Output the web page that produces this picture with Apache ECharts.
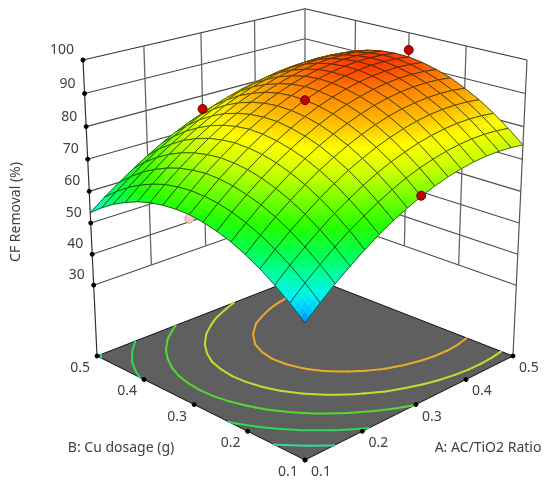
<!DOCTYPE html>
<html><head><meta charset="utf-8">
<style>html,body{margin:0;padding:0;background:#fff}#c{width:547px;height:482px}</style>
<script src="https://cdn.jsdelivr.net/npm/echarts@6/dist/echarts.min.js"></script>
</head><body><div id="c"></div>
<script>
// ---- data ----
const factorTicks = [0.1, 0.2, 0.3, 0.4, 0.5];
const responseTicks = [30, 40, 50, 60, 70, 80, 90, 100];
const contourLevels = [54.3, 62.0, 69.8, 77.5, 85.2];
const contourColors = ['#35d6a0', '#2ed85a', '#55d82e', '#c4dc2e', '#ecaa2c'];
// rows: Cu dosage 0.100 -> 0.500 (step 0.025); columns: AC/TiO2 0.100 -> 0.500 (step 0.025)
const removal = [
[46.7,50.6,54.3,57.6,60.7,63.5,66.0,68.1,70.0,71.6,72.9,73.9,74.6,75.0,75.1,74.9,74.4],
[50.5,54.5,58.1,61.5,64.6,67.3,69.8,72.0,73.9,75.5,76.7,77.7,78.4,78.8,78.9,78.7,78.2],
[53.9,57.9,61.5,64.9,68.0,70.7,73.2,75.4,77.3,78.8,80.1,81.1,81.8,82.2,82.3,82.1,81.6],
[56.9,60.8,64.5,67.8,70.9,73.7,76.2,78.3,80.2,81.8,83.1,84.1,84.8,85.2,85.3,85.1,84.6],
[59.3,63.3,67.0,70.3,73.4,76.2,78.6,80.8,82.7,84.3,85.6,86.6,87.2,87.6,87.7,87.5,87.0],
[61.4,65.3,69.0,72.3,75.4,78.2,80.7,82.8,84.7,86.3,87.6,88.6,89.3,89.7,89.8,89.6,89.1],
[62.9,66.9,70.5,73.9,77.0,79.7,82.2,84.4,86.3,87.9,89.1,90.1,90.8,91.2,91.3,91.1,90.6],
[64.0,68.0,71.6,75.0,78.1,80.8,83.3,85.5,87.4,88.9,90.2,91.2,91.9,92.3,92.4,92.2,91.7],
[64.7,68.6,72.3,75.6,78.7,81.5,84.0,86.1,88.0,89.6,90.9,91.9,92.6,93.0,93.1,92.9,92.4],
[64.8,68.8,72.5,75.8,78.9,81.7,84.1,86.3,88.2,89.8,91.1,92.0,92.7,93.1,93.2,93.0,92.5],
[64.5,68.5,72.1,75.4,78.5,81.3,83.7,85.9,87.8,89.4,90.7,91.7,92.3,92.7,92.8,92.6,92.2],
[63.8,67.8,71.3,74.6,77.7,80.4,82.8,85.0,86.9,88.4,89.7,90.7,91.5,91.9,92.0,91.9,91.4],
[62.6,66.5,70.0,73.3,76.3,79.0,81.5,83.6,85.4,87.0,88.3,89.3,90.1,90.5,90.7,90.5,90.1],
[60.9,64.8,68.2,71.5,74.5,77.1,79.5,81.7,83.5,85.1,86.3,87.4,88.1,88.6,88.8,88.7,88.3],
[58.9,62.6,66.0,69.2,72.0,74.7,77.1,79.2,81.0,82.6,83.9,84.9,85.7,86.2,86.4,86.4,86.1],
[56.3,59.9,63.2,66.4,69.3,71.8,74.1,76.2,78.1,79.6,80.9,81.9,82.7,83.3,83.6,83.6,83.4],
[53.3,56.8,60.0,63.0,65.8,68.4,70.7,72.7,74.5,76.1,77.4,78.5,79.3,79.9,80.3,80.4,80.2]
];
// design points: A, B, CF removal
const pointA = [0.1, 0.3, 0.3, 0.3, 0.5];
const pointB = [0.3, 0.5, 0.3, 0.1, 0.3];
const pointZ = [63.5, 75.7, 88.0, 70.2, 94.6];
const pointSurface = [64.7, 74.5, 88.0, 70.0, 92.4];
const colorStops = [[46.6,'#0088ff'],[49,'#00c8ff'],[52,'#00f6f0'],[56,'#00ffa0'],[60,'#00ff50'],[65,'#20ff00'],[70,'#70ff00'],[75,'#c8ff00'],[80,'#ffff00'],[85,'#ffb800'],[90,'#ff7a00'],[93,'#ff3a00']];

const FLOOR_Z = 6.5, TOP_Z = 100, FONT = '"Noto Sans", "Open Sans", sans-serif';
const TEXT_FONT = '14px ' + FONT;
const N = removal.length - 1;

// perspective view of the cube onto a pixel-sized hidden cartesian system
function view(A, B, Z) {
  const u = (A - 0.1) / 0.4, v = (B - 0.1) / 0.4, w = (Z - FLOOR_Z) / (TOP_Z - FLOOR_Z);
  const d = u + v, D = 1 + 0.142 * d - 0.0722 * w;
  return [305 + 237.5 * (u - v) / D, (460 - 53.45 * d - 342.4 * w) / D];
}
function colorOf(z) {
  const s = colorStops;
  if (z <= s[0][0]) return s[0][1];
  for (let k = 1; k < s.length; k++) if (z <= s[k][0]) {
    const t = (z - s[k-1][0]) / (s[k][0] - s[k-1][0]);
    const a = parseInt(s[k-1][1].slice(1), 16), b = parseInt(s[k][1].slice(1), 16);
    const ch = sh => Math.round(((a >> sh) & 255) * (1 - t) + ((b >> sh) & 255) * t);
    return `rgb(${ch(16)},${ch(8)},${ch(0)})`;
  }
  return s[s.length-1][1];
}
const gridA = i => 0.1 + 0.4 * i / N;
const gridB = j => 0.1 + 0.4 * j / N;

// surface cells, far to near
const cells = [];
for (let j = 0; j < N; j++) for (let i = 0; i < N; i++) cells.push([i, j]);
cells.sort((p, q) => (q[0] + q[1]) - (p[0] + p[1]));

function line(api, a, b, stroke, lw) {
  const p = api.coord(a), q = api.coord(b);
  return { type: 'line', shape: { x1: p[0], y1: p[1], x2: q[0], y2: q[1] }, style: { stroke, lineWidth: lw } };
}
function poly(api, pts, style) {
  return { type: 'polygon', shape: { points: pts.map(p => api.coord(p)) }, style };
}
function dot(api, p, r, fill, stroke) {
  const c = api.coord(p);
  return { type: 'circle', shape: { cx: c[0], cy: c[1], r }, style: { fill, stroke: stroke || fill, lineWidth: 1 } };
}
function label(api, p, dx, dy, text, opts) {
  const c = api.coord(p);
  return Object.assign({ type: 'text', x: c[0] + dx, y: c[1] + dy,
    style: { text, fill: '#404040', font: TEXT_FONT, align: 'center', verticalAlign: 'middle' } }, opts || {});
}

function renderFrame(params, api) {
  const ch = [];
  const lo = factorTicks[0], hi = factorTicks[factorTicks.length - 1];
  // floor
  ch.push(poly(api, [view(lo,lo,FLOOR_Z), view(hi,lo,FLOOR_Z), view(hi,hi,FLOOR_Z), view(lo,hi,FLOOR_Z)],
    { fill: '#5f5f5f', stroke: '#111', lineWidth: 1 }));
  // walls
  const z0 = responseTicks[0];
  responseTicks.forEach(z => {
    const col = z === TOP_Z ? '#333' : '#4a4a4a';
    ch.push(line(api, view(lo,hi,z), view(hi,hi,z), col, 1.1));
    ch.push(line(api, view(hi,hi,z), view(hi,lo,z), col, 1.1));
  });
  factorTicks.slice(1, -1).forEach(t => {
    ch.push(line(api, view(t,hi,z0), view(t,hi,TOP_Z), '#666', 1.3));
    ch.push(line(api, view(hi,t,z0), view(hi,t,TOP_Z), '#666', 1.3));
  });
  ch.push(line(api, view(hi,hi,z0), view(hi,hi,TOP_Z), '#666', 1.3));
  ch.push(line(api, view(lo,hi,FLOOR_Z), view(lo,hi,TOP_Z), '#333', 1.2));
  ch.push(line(api, view(hi,lo,FLOOR_Z), view(hi,lo,TOP_Z), '#555', 1.2));
  // contours (marching squares on the response grid)
  contourLevels.forEach((lev, k) => {
    const cross = (i1,j1,i2,j2) => {
      const a = removal[j1][i1], b = removal[j2][i2], t = (lev - a) / (b - a);
      return view(gridA(i1 + (i2 - i1) * t), gridB(j1 + (j2 - j1) * t), FLOOR_Z);
    };
    for (let j = 0; j < N; j++) for (let i = 0; i < N; i++) {
      const e = [];
      if ((removal[j][i] < lev) !== (removal[j][i+1] < lev)) e.push(cross(i,j,i+1,j));
      if ((removal[j][i+1] < lev) !== (removal[j+1][i+1] < lev)) e.push(cross(i+1,j,i+1,j+1));
      if ((removal[j+1][i+1] < lev) !== (removal[j+1][i] < lev)) e.push(cross(i+1,j+1,i,j+1));
      if ((removal[j+1][i] < lev) !== (removal[j][i] < lev)) e.push(cross(i,j+1,i,j));
      if (e.length >= 2) {
        const l = line(api, e[0], e[1], contourColors[k], 2);
        l.style.lineCap = 'round';
        ch.push(l);
      }
    }
  });
  // tick dots and labels
  responseTicks.forEach(z => {
    ch.push(dot(api, view(lo,hi,z), 2, '#000'));
    const c = label(api, view(lo,hi,z), -9, -10, String(z));
    c.style.align = 'right';
    ch.push(c);
  });
  factorTicks.forEach(t => {
    ch.push(dot(api, view(lo,t,FLOOR_Z), 2, '#000'));
    ch.push(dot(api, view(t,lo,FLOOR_Z), 2, '#000'));
    ch.push(label(api, view(lo,t,FLOOR_Z), -17, 12, t.toFixed(1)));
    ch.push(label(api, view(t,lo,FLOOR_Z), 16, 12, t.toFixed(1)));
  });
  // titles
  ch.push({ type: 'text', x: api.coord([488,0])[0], y: api.coord([0,448])[1], style: { text: 'A: AC/TiO2 Ratio', fill: '#404040', font: TEXT_FONT, align: 'center', verticalAlign: 'middle' } });
  ch.push({ type: 'text', x: api.coord([121,0])[0], y: api.coord([0,448])[1], style: { text: 'B: Cu dosage (g)', fill: '#404040', font: TEXT_FONT, align: 'center', verticalAlign: 'middle' } });
  const tp = api.coord([16,212]);
  ch.push({ type: 'text', x: tp[0], y: tp[1], rotation: Math.PI / 2, style: { text: 'CF Removal (%)', fill: '#404040', font: TEXT_FONT, align: 'center', verticalAlign: 'middle' } });
  // the design point that lies under the surface
  const pk = 0;
  ch.push(dot(api, view(pointA[pk], pointB[pk], pointZ[pk]), 4.5, '#f6c9c2', '#c89a94'));
  return { type: 'group', children: ch };
}

function renderCell(params, api) {
  const i = api.value(0), j = api.value(1), ch = [], SUB = 4;
  const z00 = removal[j][i], z10 = removal[j][i+1], z01 = removal[j+1][i], z11 = removal[j+1][i+1];
  const zAt = (s, t) => z00*(1-s)*(1-t) + z10*s*(1-t) + z01*(1-s)*t + z11*s*t;
  const at = (s, t) => view(gridA(i + s), gridB(j + t), zAt(s, t));
  for (let b = SUB - 1; b >= 0; b--) for (let a = SUB - 1; a >= 0; a--) {
    const s0 = a/SUB, s1 = (a+1)/SUB, t0 = b/SUB, t1 = (b+1)/SUB;
    const col = colorOf(zAt((s0+s1)/2, (t0+t1)/2));
    ch.push(poly(api, [at(s0,t0), at(s1,t0), at(s1,t1), at(s0,t1)], { fill: col, stroke: col, lineWidth: 0.7 }));
  }
  ch.push(poly(api, [at(0,0), at(1,0), at(1,1), at(0,1)], { fill: 'none', stroke: 'rgba(20,40,10,0.72)', lineWidth: 1 }));
  return { type: 'group', children: ch };
}

function renderPoints(params, api) {
  const ch = [];
  pointZ.forEach((z, k) => {
    if (k === 0) return;
    const top = view(pointA[k], pointB[k], z), base = view(pointA[k], pointB[k], pointSurface[k]);
    ch.push(line(api, top, base, '#444', 1));
  });
  pointZ.forEach((z, k) => {
    if (k === 0) return;
    ch.push(dot(api, view(pointA[k], pointB[k], z), 4.5, '#c00000', '#7d0000'));
  });
  return { type: 'group', children: ch };
}

const chart = echarts.init(document.getElementById('c'), null, { renderer: 'canvas' });
chart.setOption({
  animation: false,
  backgroundColor: '#fff',
  grid: { left: 0, right: 0, top: 0, bottom: 0 },
  xAxis: { type: 'value', min: 0, max: 547, show: false },
  yAxis: { type: 'value', min: 0, max: 482, inverse: true, show: false },
  series: [
    { type: 'custom', silent: true, coordinateSystem: 'cartesian2d', renderItem: renderFrame, data: [[0, 0]], encode: { x: 0, y: 1 }, clip: false, z: 1 },
    { type: 'custom', silent: true, coordinateSystem: 'cartesian2d', renderItem: renderCell, data: cells, encode: { x: 0, y: 1 }, clip: false, progressive: 0, z: 2 },
    { type: 'custom', silent: true, coordinateSystem: 'cartesian2d', renderItem: renderPoints, data: [[0, 0]], encode: { x: 0, y: 1 }, clip: false, z: 3 }
  ]
});
</script></body></html>
